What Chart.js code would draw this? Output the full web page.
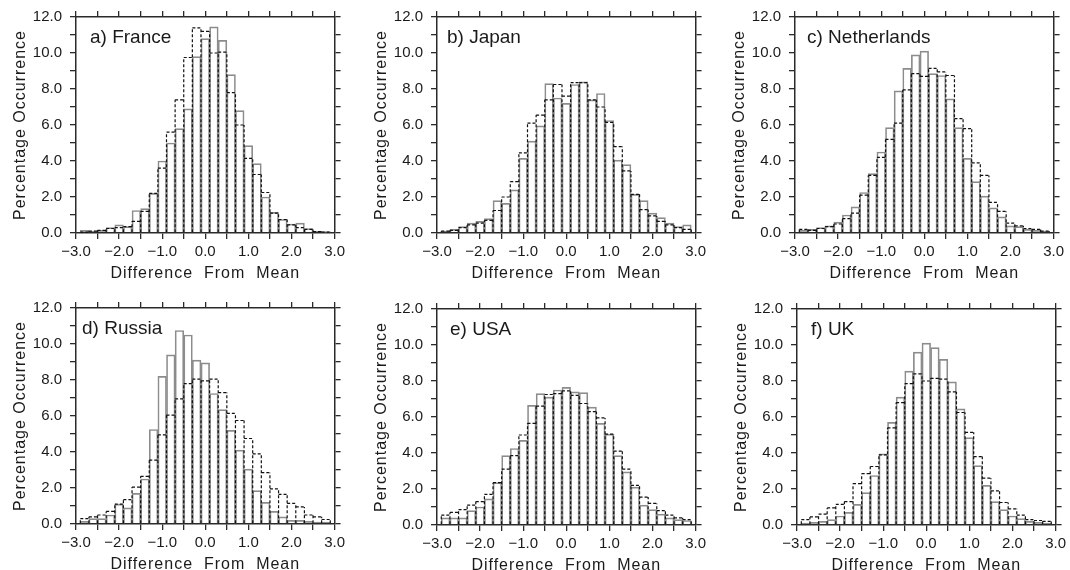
<!DOCTYPE html>
<html>
<head>
<meta charset="utf-8">
<script src="https://cdn.jsdelivr.net/npm/chart.js@4.4.0/dist/chart.umd.min.js"></script>
<style>
  body { margin: 0; background: #fff; width: 1070px; height: 570px; position: relative; overflow: hidden; }
  .panel { position: absolute; width: 349px; height: 283px; }
</style>
</head>
<body>
<div class="panel" style="left:0px;top:0px"><canvas id="c0" width="349" height="283"></canvas></div>
<div class="panel" style="left:361px;top:0px"><canvas id="c1" width="349" height="283"></canvas></div>
<div class="panel" style="left:719px;top:0px"><canvas id="c2" width="349" height="283"></canvas></div>
<div class="panel" style="left:0px;top:291px"><canvas id="c3" width="349" height="283"></canvas></div>
<div class="panel" style="left:361px;top:292px"><canvas id="c4" width="349" height="283"></canvas></div>
<div class="panel" style="left:721px;top:292px"><canvas id="c5" width="349" height="283"></canvas></div>
<script>
// bin centres (width 0.2)
const binCenters = [-2.8, -2.6, -2.4, -2.2, -2.0, -1.8, -1.6, -1.4, -1.2, -1.0, -0.8, -0.6, -0.4, -0.2, 0.0,
                    0.2, 0.4, 0.6, 0.8, 1.0, 1.2, 1.4, 1.6, 1.8, 2.0, 2.2, 2.4, 2.6, 2.8];

const xTickLabels = [-3, -2, -1, 0, 1, 2, 3];
const yTickLabels = [0, 2, 4, 6, 8, 10, 12];

const panelTitles = ['a) France', 'b) Japan', 'c) Netherlands', 'd) Russia', 'e) USA', 'f) UK'];

// solid grey bars / dashed black bars
const franceSolid  = [0.15, 0.1, 0.15, 0.3, 0.45, 0.35, 1.25, 1.35, 2.2, 4.0, 5.0, 5.8, 6.9, 9.8, 10.8,
                      11.45, 10.7, 8.8, 6.8, 4.85, 3.85, 2.0, 1.15, 0.75, 0.5, 0.55, 0.25, 0.1, 0.08];
const franceDashed = [0.05, 0.1, 0.15, 0.25, 0.3, 0.35, 0.65, 1.2, 2.2, 3.6, 5.6, 7.4, 9.75, 11.4, 11.2,
                      10.0, 10.05, 7.8, 6.0, 4.15, 3.25, 2.25, 1.1, 0.75, 0.45, 0.3, 0.2, 0.08, 0.05];

const japanSolid   = [0.1, 0.2, 0.35, 0.55, 0.65, 0.8, 1.8, 1.65, 2.4, 4.15, 5.1, 5.95, 8.3, 7.5, 7.2,
                      8.25, 8.4, 7.4, 7.75, 6.25, 4.05, 3.8, 2.15, 1.8, 1.1, 0.85, 0.55, 0.35, 0.45];
const japanDashed  = [0.1, 0.15, 0.3, 0.45, 0.55, 0.7, 1.25, 2.0, 2.85, 4.45, 6.1, 6.55, 7.4, 8.25, 7.6,
                      8.35, 8.35, 7.4, 7.0, 6.15, 4.8, 3.45, 2.15, 1.3, 0.95, 0.65, 0.45, 0.3, 0.2];

const nethSolid    = [0.15, 0.2, 0.3, 0.4, 0.6, 1.0, 1.45, 2.25, 3.3, 4.5, 5.85, 7.9, 9.15, 9.9, 10.1,
                      8.85, 8.75, 7.45, 5.85, 4.15, 2.85, 2.05, 1.4, 0.9, 0.4, 0.35, 0.2, 0.15, 0.1];
const nethDashed   = [0.2, 0.15, 0.25, 0.35, 0.5, 0.8, 1.1, 2.1, 3.2, 4.2, 5.2, 6.1, 7.95, 8.85, 8.7,
                      9.15, 8.95, 8.75, 6.35, 5.8, 3.9, 3.2, 1.7, 1.2, 0.55, 0.4, 0.25, 0.2, 0.1];

const russiaSolid  = [0.15, 0.3, 0.3, 0.5, 1.1, 0.9, 1.7, 2.5, 5.25, 8.2, 9.4, 10.75, 10.5, 9.1, 8.95,
                      7.25, 6.35, 5.2, 4.1, 3.05, 1.85, 1.2, 0.7, 0.4, 0.2, 0.2, 0.15, 0.1, 0.1];
const russiaDashed = [0.3, 0.4, 0.5, 0.7, 1.1, 1.35, 2.05, 2.65, 3.55, 4.95, 6.05, 6.95, 7.8, 8.05, 7.95,
                      8.05, 7.3, 6.15, 5.75, 4.75, 3.9, 2.85, 1.95, 1.65, 1.15, 0.95, 0.5, 0.4, 0.25];

const usaSolid     = [0.4, 0.4, 0.4, 0.8, 1.0, 1.45, 2.35, 3.85, 4.25, 4.7, 6.65, 7.3, 7.1, 7.5, 7.65,
                      7.4, 7.35, 6.55, 5.65, 5.05, 3.85, 2.95, 2.1, 1.1, 0.85, 0.6, 0.4, 0.3, 0.25];
const usaDashed    = [0.55, 0.7, 0.85, 1.1, 1.3, 1.7, 2.35, 3.1, 3.85, 5.0, 5.65, 6.6, 7.25, 7.3, 7.45,
                      7.2, 6.75, 6.3, 5.95, 5.05, 4.1, 3.1, 2.2, 1.55, 1.2, 0.8, 0.55, 0.4, 0.3];

const ukSolid      = [0.1, 0.15, 0.2, 0.3, 0.5, 0.7, 1.15, 1.8, 2.75, 3.95, 5.7, 7.1, 8.55, 9.6, 10.1,
                      9.85, 9.2, 7.95, 6.45, 4.85, 3.3, 2.2, 1.3, 0.85, 0.5, 0.35, 0.2, 0.15, 0.1];
const ukDashed     = [0.3, 0.45, 0.6, 0.95, 1.15, 1.3, 2.3, 2.85, 3.25, 3.9, 5.4, 6.8, 7.85, 8.4, 8.0,
                      8.15, 8.1, 7.4, 6.25, 5.15, 3.8, 2.6, 1.9, 1.25, 0.9, 0.55, 0.3, 0.25, 0.2];

const solidSeries  = [franceSolid, japanSolid, nethSolid, russiaSolid, usaSolid, ukSolid];
const dashedSeries = [franceDashed, japanDashed, nethDashed, russiaDashed, usaDashed, ukDashed];

// label offset from the left of each plot box
const labelDx = [14, 10, 12, 6, 13, 14];

const FONT = '"Liberation Sans", Arial, Helvetica, sans-serif';
const AXIS = '#2a2a2a';

function fmt(v) {
    return v.toFixed(1).replace('-', '\u2212');
}

// draws the second dataset as a dashed outline histogram
const dashedBars = {
    id: 'dashedBars',
    afterDatasetsDraw(chart) {
        const els = chart.getDatasetMeta(1).data;
        const ctx = chart.ctx;
        ctx.save();
        ctx.strokeStyle = '#111';
        ctx.lineWidth = 1.2;
        ctx.setLineDash([3, 2]);
        ctx.beginPath();
        for (let i = 0; i < els.length; i++) {
            const b = els[i];
            const l = b.x - b.width / 2, r = b.x + b.width / 2;
            const prev = i > 0 ? els[i - 1].y : b.base;
            ctx.moveTo(l, b.base);
            ctx.lineTo(l, Math.min(prev, b.y));
            ctx.moveTo(l, b.y);
            ctx.lineTo(r, b.y);
        }
        const last = els[els.length - 1];
        ctx.moveTo(last.x + last.width / 2, last.base);
        ctx.lineTo(last.x + last.width / 2, last.y);
        ctx.stroke();
        ctx.restore();
    }
};

const panelText = {
    id: 'panelText',
    afterDraw(chart, args, opts) {
        const { ctx, chartArea: a } = chart;
        ctx.save();
        ctx.fillStyle = '#1a1a1a';
        ctx.textBaseline = 'alphabetic';
        ctx.font = '19px ' + FONT;
        ctx.textAlign = 'left';
        ctx.fillText(opts.label, a.left + opts.dx, a.top + 25.5);
        ctx.font = '16px ' + FONT;
        ctx.letterSpacing = '1px';
        ctx.textAlign = 'center';
        ctx.fillText('Difference  From  Mean', (a.left + a.right) / 2, a.bottom + 45);
        ctx.translate(a.left - 51, (a.top + a.bottom) / 2);
        ctx.rotate(-Math.PI / 2);
        ctx.fillText('Percentage Occurrence', 0, 0);
        ctx.restore();
    }
};

function edgeGrid() {
    return { drawOnChartArea: false, drawTicks: true, tickLength: 6, color: AXIS, lineWidth: 1.3, offset: false };
}
function edgeBorder() {
    return { display: true, color: AXIS, width: 1.5 };
}

function makeChart(i) {
    const ctx = document.getElementById('c' + i).getContext('2d');
    new Chart(ctx, {
        type: 'bar',
        data: {
            datasets: [{
                data: binCenters.map((x, k) => ({ x: x, y: solidSeries[i][k] })),
                backgroundColor: 'rgba(255,255,255,0)',
                borderColor: '#8c8c8c',
                borderWidth: 1,
                borderSkipped: 'start',
                grouped: false,
                barPercentage: 1.0,
                categoryPercentage: 1.0
            }, {
                data: binCenters.map((x, k) => ({ x: x, y: dashedSeries[i][k] })),
                backgroundColor: 'rgba(0,0,0,0)',
                borderWidth: 0,
                grouped: false,
                barPercentage: 1.0,
                categoryPercentage: 1.0
            }]
        },
        options: {
            responsive: false,
            animation: false,
            layout: { padding: 0 },
            plugins: {
                legend: { display: false },
                tooltip: { enabled: false },
                panelText: { label: panelTitles[i], dx: labelDx[i] }
            },
            scales: {
                x: {
                    type: 'linear', position: 'bottom', min: -3, max: 3, offset: false,
                    grid: edgeGrid(), border: edgeBorder(),
                    ticks: {
                        stepSize: 0.5, autoSkip: false, maxRotation: 0, padding: 4,
                        color: '#1a1a1a', font: { family: FONT, size: 15 },
                        callback: v => xTickLabels.some(t => Math.abs(t - v) < 1e-6) ? fmt(v) : ''
                    },
                    afterFit: s => { s.height = 50; }
                },
                xTop: {
                    axis: 'x', type: 'linear', position: 'top', min: -3, max: 3, offset: false,
                    grid: edgeGrid(), border: edgeBorder(),
                    ticks: { display: false, stepSize: 0.5 },
                    afterFit: s => { s.height = 17; }
                },
                y: {
                    type: 'linear', position: 'left', min: 0, max: 12,
                    grid: edgeGrid(), border: edgeBorder(),
                    ticks: {
                        stepSize: 1, autoSkip: false, padding: 8,
                        color: '#1a1a1a', font: { family: FONT, size: 15 },
                        callback: v => yTickLabels.includes(v) ? fmt(v) : ''
                    },
                    afterFit: s => { s.width = 76; }
                },
                yRight: {
                    axis: 'y', type: 'linear', position: 'right', min: 0, max: 12,
                    grid: edgeGrid(), border: edgeBorder(),
                    ticks: { display: false, stepSize: 1 },
                    afterFit: s => { s.width = 14; }
                }
            }
        },
        plugins: [dashedBars, panelText]
    });
}

for (let i = 0; i < 6; i++) makeChart(i);
</script>
</body>
</html>
